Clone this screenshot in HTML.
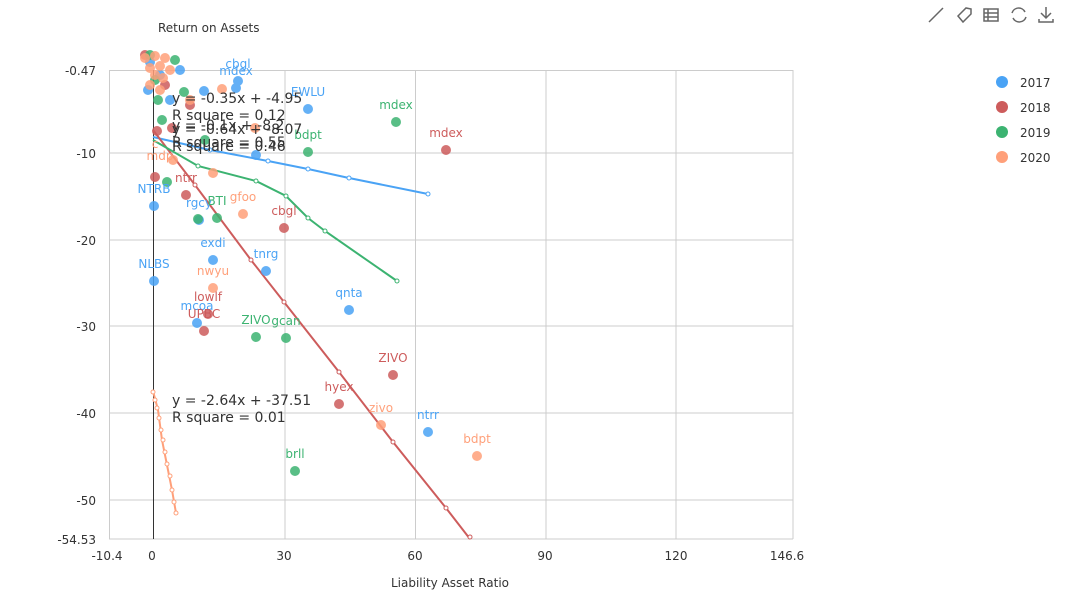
<!DOCTYPE html>
<html><head><meta charset="utf-8"><style>
html,body{margin:0;padding:0;background:#fff;width:1080px;height:600px;overflow:hidden;font-family:"Liberation Sans",sans-serif}
svg{display:block;overflow:hidden}
svg text{font-family:"DejaVu Sans","Liberation Sans",sans-serif}
</style></head><body>
<svg width="1080" height="600" viewBox="0 0 1080 600" xmlns="http://www.w3.org/2000/svg">
<g stroke="#ccc" stroke-width="1">
<line x1="109" y1="70.5" x2="793" y2="70.5"/><line x1="109" y1="153" x2="793" y2="153"/><line x1="109" y1="240" x2="793" y2="240"/>
<line x1="109" y1="326" x2="793" y2="326"/><line x1="109" y1="413" x2="793" y2="413"/><line x1="109" y1="500" x2="793" y2="500"/>
<line x1="109" y1="539" x2="793" y2="539"/>
<line x1="109.5" y1="70" x2="109.5" y2="539"/><line x1="285" y1="70" x2="285" y2="539"/><line x1="415.5" y1="70" x2="415.5" y2="539"/>
<line x1="546" y1="70" x2="546" y2="539"/><line x1="676" y1="70" x2="676" y2="539"/><line x1="793" y1="70" x2="793" y2="539"/>
</g>
<line x1="153.5" y1="70" x2="153.5" y2="539" stroke="#333"/>
<g font-size="12" fill="#333" text-anchor="end">
<text x="96" y="75">-0.47</text><text x="96" y="158">-10</text><text x="96" y="245">-20</text><text x="96" y="331">-30</text><text x="96" y="418">-40</text><text x="96" y="505">-50</text><text x="96" y="544">-54.53</text>
</g>
<g font-size="12" fill="#333" text-anchor="middle">
<text x="107" y="560">-10.4</text><text x="152" y="560">0</text><text x="284" y="560">30</text><text x="415" y="560">60</text><text x="545" y="560">90</text><text x="676" y="560">120</text><text x="787" y="560">146.6</text>
</g>
<text x="158" y="32" font-size="12" fill="#333">Return on Assets</text>
<text x="450" y="587" font-size="12" fill="#333" text-anchor="middle">Liability Asset Ratio</text>
<polyline points="153,137 210,150 268,161 308,169 349,178 428,194" fill="none" stroke="#4aa3f5" stroke-width="2"/>
<polyline points="153,130 195,185 251,260 284,302 339,372 393,442 446,508 470,539" fill="none" stroke="#cd5c5c" stroke-width="2"/>
<polyline points="153,140 198,166 256,181 286,196 308,218 325,231 397,281" fill="none" stroke="#3cb371" stroke-width="2"/>
<polyline points="153,391 158,410 162,440 167,465 172,490 176,513" fill="none" stroke="#ffa07a" stroke-width="2"/>
<g fill="#fff" stroke-width="1">
<g stroke="#4aa3f5"><circle cx="210" cy="150" r="2"/><circle cx="268" cy="161" r="2"/><circle cx="308" cy="169" r="2"/><circle cx="349" cy="178" r="2"/><circle cx="428" cy="194" r="2"/></g>
<g stroke="#cd5c5c"><circle cx="195" cy="185" r="2"/><circle cx="251" cy="260" r="2"/><circle cx="284" cy="302" r="2"/><circle cx="339" cy="372" r="2"/><circle cx="393" cy="442" r="2"/><circle cx="446" cy="508" r="2"/><circle cx="470" cy="537" r="2"/></g>
<g stroke="#3cb371"><circle cx="198" cy="166" r="2"/><circle cx="256" cy="181" r="2"/><circle cx="286" cy="196" r="2"/><circle cx="308" cy="218" r="2"/><circle cx="325" cy="231" r="2"/><circle cx="397" cy="281" r="2"/></g>
<g stroke="#ffa07a"><circle cx="153" cy="392" r="2"/><circle cx="155" cy="400" r="2"/><circle cx="157" cy="408" r="2"/><circle cx="159" cy="418" r="2"/><circle cx="161" cy="430" r="2"/><circle cx="163" cy="440" r="2"/><circle cx="165" cy="452" r="2"/><circle cx="167" cy="464" r="2"/><circle cx="170" cy="476" r="2"/><circle cx="172" cy="490" r="2"/><circle cx="174" cy="502" r="2"/><circle cx="176" cy="513" r="2"/></g>
</g>
<g fill="#4aa3f5" opacity="0.85">
<circle cx="238" cy="81" r="5"/><circle cx="236" cy="88" r="5"/><circle cx="204" cy="91" r="5"/><circle cx="308" cy="109" r="5"/><circle cx="256" cy="155" r="5"/><circle cx="154" cy="206" r="5"/><circle cx="199" cy="220" r="5"/><circle cx="213" cy="260" r="5"/><circle cx="266" cy="271" r="5"/><circle cx="154" cy="281" r="5"/><circle cx="349" cy="310" r="5"/><circle cx="197" cy="323" r="5"/><circle cx="428" cy="432" r="5"/>
<circle cx="150" cy="62" r="5"/><circle cx="160" cy="75" r="5"/><circle cx="148" cy="90" r="5"/><circle cx="170" cy="100" r="5"/><circle cx="180" cy="70" r="5"/>
</g>
<g fill="#cd5c5c" opacity="0.85">
<circle cx="446" cy="150" r="5"/><circle cx="157" cy="131" r="5"/><circle cx="155" cy="177" r="5"/><circle cx="186" cy="195" r="5"/><circle cx="284" cy="228" r="5"/><circle cx="208" cy="314" r="5"/><circle cx="204" cy="331" r="5"/><circle cx="393" cy="375" r="5"/><circle cx="339" cy="404" r="5"/><circle cx="172" cy="128" r="5"/><circle cx="145" cy="55" r="5"/><circle cx="165" cy="85" r="5"/><circle cx="190" cy="105" r="5"/>
</g>
<g fill="#3cb371" opacity="0.85">
<circle cx="396" cy="122" r="5"/><circle cx="308" cy="152" r="5"/><circle cx="167" cy="182" r="5"/><circle cx="198" cy="219" r="5"/><circle cx="217" cy="218" r="5"/><circle cx="256" cy="337" r="5"/><circle cx="286" cy="338" r="5"/><circle cx="295" cy="471" r="5"/><circle cx="184" cy="92" r="5"/>
<circle cx="150" cy="55" r="5"/><circle cx="158" cy="100" r="5"/><circle cx="162" cy="120" r="5"/><circle cx="175" cy="60" r="5"/><circle cx="155" cy="80" r="5"/><circle cx="205" cy="140" r="5"/>
</g>
<g fill="#ffa07a" opacity="0.85">
<circle cx="222" cy="89" r="5"/><circle cx="213" cy="173" r="5"/><circle cx="243" cy="214" r="5"/><circle cx="213" cy="288" r="5"/><circle cx="381" cy="425" r="5"/><circle cx="477" cy="456" r="5"/><circle cx="173" cy="160" r="5"/>
<circle cx="145" cy="58" r="5"/><circle cx="155" cy="56" r="5"/><circle cx="165" cy="58" r="5"/><circle cx="150" cy="68" r="5"/><circle cx="160" cy="66" r="5"/><circle cx="155" cy="75" r="5"/><circle cx="163" cy="78" r="5"/><circle cx="150" cy="85" r="5"/><circle cx="170" cy="70" r="5"/><circle cx="160" cy="90" r="5"/><circle cx="190" cy="100" r="5"/><circle cx="255" cy="128" r="5"/>
</g>
<g font-size="12" text-anchor="middle">
<g fill="#4aa3f5"><text x="238" y="68">cbgl</text><text x="236" y="75">mdex</text><text x="308" y="96">EWLU</text><text x="154" y="193">NTRB</text><text x="199" y="207">rgcy</text><text x="213" y="247">exdi</text><text x="266" y="258">tnrg</text><text x="154" y="268">NLBS</text><text x="349" y="297">qnta</text><text x="197" y="310">mcoa</text><text x="428" y="419">ntrr</text></g>
<g fill="#cd5c5c"><text x="446" y="137">mdex</text><text x="284" y="215">cbgl</text><text x="208" y="301">lowlf</text><text x="204" y="318">UPBC</text><text x="393" y="362">ZIVO</text><text x="339" y="391">hyex</text><text x="186" y="182">ntrr</text></g>
<g fill="#3cb371"><text x="396" y="109">mdex</text><text x="308" y="139">bdpt</text><text x="217" y="205">BTI</text><text x="256" y="324">ZIVO</text><text x="286" y="325">gcan</text><text x="295" y="458">brll</text></g>
<g fill="#ffa07a"><text x="243" y="201">gfoo</text><text x="213" y="275">nwyu</text><text x="381" y="412">zivo</text><text x="477" y="443">bdpt</text><text x="160" y="160">mdp</text><text x="155" y="148">c</text></g>
</g>
<g font-size="14" fill="#333">
<text x="172" y="103">y = -0.35x + -4.95</text><text x="172" y="120">R square = 0.12</text>
<text x="172" y="130">y = -0.1x + -8.2</text><text x="172" y="147">R square = 0.55</text>
<text x="172" y="134">y = -0.64x + -8.07</text><text x="172" y="151">R square = 0.46</text>
<text x="172" y="405">y = -2.64x + -37.51</text><text x="172" y="422">R square = 0.01</text>
</g>
<g font-size="12" fill="#333">
<circle cx="1002" cy="82" r="6" fill="#4aa3f5"/><text x="1020" y="87">2017</text>
<circle cx="1002" cy="107" r="6" fill="#cd5c5c"/><text x="1020" y="112">2018</text>
<circle cx="1002" cy="132" r="6" fill="#3cb371"/><text x="1020" y="137">2019</text>
<circle cx="1002" cy="157" r="6" fill="#ffa07a"/><text x="1020" y="162">2020</text>
</g>
<g stroke="#666" stroke-width="1.5" fill="none">
<line x1="929" y1="22" x2="943" y2="8"/>
<path d="M958 16 L966 8 L971 9 L971 14 L963 22 Z"/>
<rect x="984" y="9" width="14" height="12"/><line x1="984" y1="13" x2="998" y2="13"/><line x1="984" y1="17" x2="998" y2="17"/><line x1="988" y1="9" x2="988" y2="21"/>
<path d="M1012 13 A7 7 0 0 1 1025 12 M1026 17 A7 7 0 0 1 1013 18"/>
<path d="M1046 7 L1046 18 M1041 13 L1046 18 L1051 13 M1039 19 L1039 22 L1053 22 L1053 19"/>
</g>
</svg>
</body></html>
